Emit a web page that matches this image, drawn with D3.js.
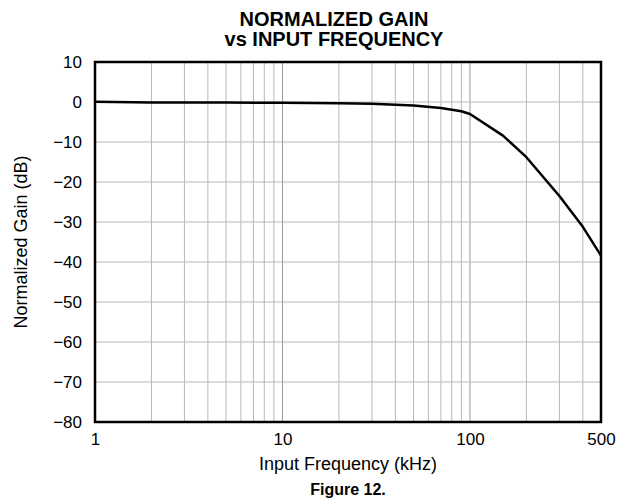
<!DOCTYPE html>
<html>
<head>
<meta charset="utf-8">
<script src="https://cdn.jsdelivr.net/npm/d3@7"></script>
<style>
  body { margin: 0; background: #fff; }
  text { font-family: "Liberation Sans", Arial, sans-serif; fill: #000; }
</style>
</head>
<body>
<div id="chart"></div>
<script>
// gain curve
var freqKHz = [1, 2, 5, 10, 20, 30, 50, 70, 90, 100, 150, 200, 300, 400, 500];
var gainDb  = [0.05, -0.1, -0.15, -0.2, -0.3, -0.45, -0.9, -1.5, -2.3, -3.0, -8.4, -13.8, -23.5, -31.2, -38.4];

var xTicks = [1, 10, 100, 500];
var yTicks = [10, 0, -10, -20, -30, -40, -50, -60, -70, -80];
var xMinor = [2,3,4,5,6,7,8,9, 20,30,40,50,60,70,80,90, 200,300,400];

var width = 625, height = 504;
var margin = {left: 95, right: 24, top: 62, bottom: 82};

var svg = d3.select("#chart").append("svg")
  .attr("width", width)
  .attr("height", height);

var x = d3.scaleLog().domain([1, 500]).range([margin.left, width - margin.right]);
var y = d3.scaleLinear().domain([-80, 10]).range([height - margin.bottom, margin.top]);

var plotW = x.range()[1] - x.range()[0];
var plotH = y.range()[0] - y.range()[1];

// grid lines
var grid = svg.append("g").attr("class", "grid");
grid.selectAll("line.v").data(xMinor.concat([10, 100])).enter().append("line")
  .attr("x1", function(d){ return x(d); })
  .attr("x2", function(d){ return x(d); })
  .attr("y1", y(10)).attr("y2", y(-80))
  .attr("stroke", function(d){ return (d == 10 || d == 100) ? "#9a9a9a" : "#b8b8b8"; })
  .attr("stroke-width", 1);
grid.selectAll("line.h").data(yTicks.filter(function(d){ return d != 10 && d != -80; })).enter().append("line")
  .attr("x1", x(1)).attr("x2", x(500))
  .attr("y1", function(d){ return y(d); })
  .attr("y2", function(d){ return y(d); })
  .attr("stroke", "#b8b8b8")
  .attr("stroke-width", 1);

// axes: labels only, the frame is drawn separately
var fmt = function(d){ return d < 0 ? "\u2212" + Math.abs(d) : String(d); };

var xAxis = svg.append("g")
  .attr("transform", "translate(0," + y(-80) + ")")
  .call(d3.axisBottom(x).tickValues(xTicks).tickSize(0).tickPadding(11).tickFormat(d3.format("d")));
xAxis.select(".domain").remove();
xAxis.selectAll("text").style("font-size", "17px").style("font-family", "Liberation Sans, Arial, sans-serif");

var yAxis = svg.append("g")
  .attr("transform", "translate(" + x(1) + ",0)")
  .call(d3.axisLeft(y).tickValues(yTicks).tickSize(0).tickPadding(13).tickFormat(fmt));
yAxis.select(".domain").remove();
yAxis.selectAll("text").style("font-size", "17px").style("font-family", "Liberation Sans, Arial, sans-serif");

// curve
var line = d3.line()
  .x(function(d, i){ return x(freqKHz[i]); })
  .y(function(d){ return y(d); });

svg.append("path")
  .datum(gainDb)
  .attr("d", line)
  .attr("fill", "none")
  .attr("stroke", "#000")
  .attr("stroke-width", 2.5)
  .attr("stroke-linejoin", "round");

// frame
svg.append("rect")
  .attr("x", x(1)).attr("y", y(10))
  .attr("width", plotW).attr("height", plotH)
  .attr("fill", "none")
  .attr("stroke", "#000")
  .attr("stroke-width", 2.5);

// titles
var cx = x(1) + plotW / 2;
svg.append("text").attr("x", 334).attr("y", 26).attr("text-anchor", "middle")
  .style("font-size", "20px").style("font-weight", "bold").text("NORMALIZED GAIN");
svg.append("text").attr("x", 334).attr("y", 46).attr("text-anchor", "middle")
  .style("font-size", "20px").style("font-weight", "bold").text("vs INPUT FREQUENCY");

svg.append("text").attr("x", cx).attr("y", 470).attr("text-anchor", "middle")
  .style("font-size", "18px").text("Input Frequency (kHz)");

svg.append("text")
  .attr("transform", "translate(27," + (y(10) + plotH / 2) + ") rotate(-90)")
  .attr("text-anchor", "middle")
  .style("font-size", "18px").text("Normalized Gain (dB)");

svg.append("text").attr("x", cx).attr("y", 495).attr("text-anchor", "middle")
  .style("font-size", "16px").style("font-weight", "bold").text("Figure 12.");
</script>
</body>
</html>
